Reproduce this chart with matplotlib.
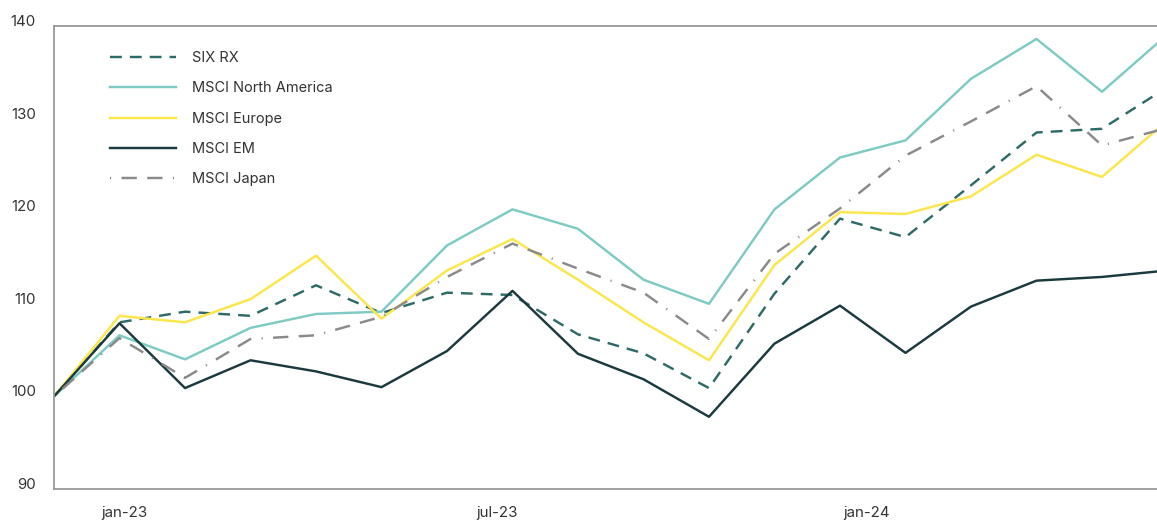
import matplotlib
matplotlib.use("Agg")
import matplotlib.pyplot as plt

plt.rcParams['font.family'] = ['Inter', 'DejaVu Sans']
plt.rcParams['lines.scale_dashes'] = False

# Monthly index levels, dec-22 = 100
months = ['dec-22', 'jan-23', 'feb-23', 'mar-23', 'apr-23', 'maj-23', 'jun-23',
          'jul-23', 'aug-23', 'sep-23', 'okt-23', 'nov-23', 'dec-23',
          'jan-24', 'feb-24', 'mar-24', 'apr-24', 'maj-24']

six_rx = [100, 108.0, 109.15, 108.7, 112.0, 109.0, 111.2, 110.95, 106.7, 104.65,
          100.9, 111.1, 119.2, 117.2, 122.8, 128.5, 128.9, 133.4]
msci_na = [100, 106.6, 104.0, 107.4, 108.9, 109.15, 116.3, 120.2, 118.1, 112.6,
           110.0, 120.2, 125.8, 127.65, 134.3, 138.6, 132.9, 139.1]
msci_europe = [100, 108.7, 108.0, 110.5, 115.2, 108.4, 113.6, 117.0, 112.6, 108.0,
               103.9, 114.2, 119.9, 119.7, 121.6, 126.1, 123.7, 129.8]
msci_em = [100, 107.9, 100.9, 103.9, 102.7, 101.0, 104.9, 111.4, 104.6, 101.85,
           97.8, 105.7, 109.8, 104.7, 109.7, 112.5, 112.9, 113.6]
msci_japan = [100, 106.3, 102.0, 106.2, 106.6, 108.6, 112.9, 116.5, 113.8, 111.2,
              106.2, 115.4, 120.3, 126.0, 129.7, 133.5, 127.1, 129.0]

tick_labels = ['jan-23', 'jul-23', 'jan-24']
tick_positions = [1.07, 6.76, 12.4]
y_ticks = [90, 100, 110, 120, 130, 140]

x = list(range(len(months)))

fig = plt.figure(figsize=(11.57, 5.21), dpi=100)
ax = fig.add_axes([54 / 1157, 32 / 521, 1 - 54 / 1157, 463 / 521])

lw = 1.75
ax.plot(x, six_rx, color='#2e6b66', lw=lw, linestyle=(0, (8.5, 5.8)), label='SIX RX')
ax.plot(x, msci_na, color='#7ecbc4', lw=lw, label='MSCI North America')
ax.plot(x, msci_europe, color='#fde64b', lw=lw, label='MSCI Europe')
ax.plot(x, msci_em, color='#1b3a3f', lw=lw, label='MSCI EM')
ax.plot(x, msci_japan, color='#8a8a8a', lw=lw,
        linestyle=(0, (0.8, 7.5, 11, 7.5, 11, 7.5)), label='MSCI Japan')

ax.set_xlim(0, (1157 - 54) / 65.5)
ax.set_ylim(90, 140)
ax.set_yticks(y_ticks)
ax.set_xticks(tick_positions)
ax.set_xticklabels(tick_labels)
ax.tick_params(axis='both', length=0, labelsize=10.8, labelcolor='#333333')
ax.tick_params(axis='y', pad=13)
ax.tick_params(axis='x', pad=12)
plt.setp(ax.get_yticklabels(), va='baseline')

for side in ['left', 'top', 'bottom']:
    ax.spines[side].set_color('#999999')
    ax.spines[side].set_linewidth(1.3)
ax.spines['right'].set_visible(False)

ax.legend(loc='upper left', bbox_to_anchor=(110 / 1157, 1 - 51 / 521),
          bbox_transform=fig.transFigure, frameon=False, fontsize=10.5,
          handlelength=4.5, handletextpad=1.15, labelspacing=1.12,
          borderpad=0, borderaxespad=0, labelcolor='#333333')

fig.savefig('out.png', dpi=100)
